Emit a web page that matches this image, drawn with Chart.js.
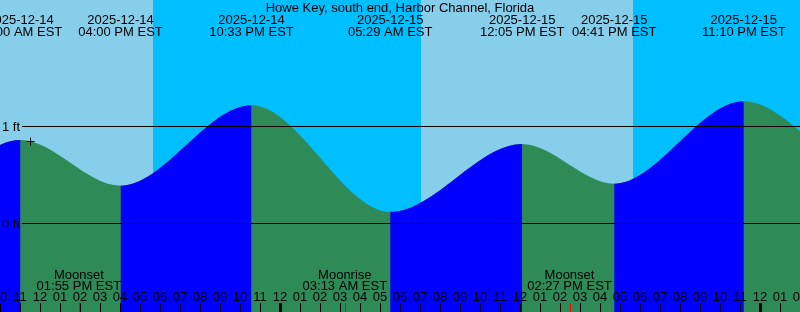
<!DOCTYPE html>
<html>
<head>
<meta charset="utf-8">
<script src="https://cdn.jsdelivr.net/npm/chart.js@4.4.1/dist/chart.umd.min.js"></script>
<style>
html, body { margin: 0; padding: 0; background: #00bfff; }
#wrap { width: 800px; height: 312px; }
</style>
</head>
<body>
<div id="wrap"><canvas id="tide" width="800" height="312"></canvas></div>
<script>
// Tide graph: Howe Key, two days around 2025-12-14/15
const stationName = 'Howe Key, south end, Harbor Channel, Florida';

// high / low waters (first two and last two sit outside the window, they only shape the curve)
const tideDates = ['2025-12-13', '2025-12-14', '2025-12-14', '2025-12-14', '2025-12-14', '2025-12-15', '2025-12-15', '2025-12-15', '2025-12-15', '2025-12-16', '2025-12-16'];
const tideTimes = ['10:00 PM', '04:30 AM', '11:00 AM', '04:00 PM', '10:33 PM', '05:29 AM', '12:05 PM', '04:41 PM', '11:10 PM', '05:50 AM', '12:30 PM'];
const tideHeights = [1.20, 0.10, 0.86, 0.39, 1.22, 0.12, 0.82, 0.41, 1.26, 0.45, 0.80];

// daylight spans
const sunrises = ['2025-12-14 07:00 AM', '2025-12-15 07:01 AM'];
const sunsets = ['2025-12-14 05:37 PM', '2025-12-15 05:37 PM'];

// moon events
const moonEvents = ['Moonset', 'Moonrise', 'Moonset'];
const moonDates = ['2025-12-14', '2025-12-15', '2025-12-15'];
const moonTimes = ['01:55 PM', '03:13 AM', '02:27 PM'];

// "now" mark
const markAt = '2025-12-14 11:30 AM';
const markHeight = 0.845;

// axis ticks
const heightTicks = [0, 1];
const firstTickHour = 10; // 10 AM on 2025-12-14
const hourLabels = ['10', '11', '12', '01', '02', '03', '04', '05', '06', '07', '08', '09', '10', '11',
  '12', '01', '02', '03', '04', '05', '06', '07', '08', '09', '10', '11',
  '12', '01', '02', '03', '04', '05', '06', '07', '08', '09', '10', '11',
  '12', '01', '02'];

const DAY = '#87ceeb', NIGHT = '#00bfff', RISE = '#0000ff', FALL = '#2e8b57';
const FONT = '13px "Liberation Sans", Arial, sans-serif';
const X_MIN = 9.975, X_MAX = 49.975;
const Y_MIN = -0.9124, Y_MAX = 2.3041;

// hours since 2025-12-14 00:00
function toHours(date, time) {
    const day = parseInt(date.slice(8), 10) - 14;
    const parts = time.split(' ');
    let [h, m] = parts[0].split(':').map(Number);
    if (h === 12) h = 0;
    if (parts[1] === 'PM') h += 12;
    return day * 24 + h + m / 60;
}
function stampHours(s) {
    return toHours(s.slice(0, 10), s.slice(11));
}

const tidePoints = tideTimes.map((t, i) => ({ x: toHours(tideDates[i], t), y: tideHeights[i] }));

const backdrop = {
    id: 'backdrop',
    beforeDraw(chart) {
        const { ctx, scales: { x } } = chart;
        ctx.save();
        ctx.fillStyle = NIGHT;
        ctx.fillRect(0, 0, chart.width, chart.height);
        ctx.fillStyle = DAY;
        for (let i = 0; i < sunrises.length; i++) {
            const x0 = Math.round(x.getPixelForValue(stampHours(sunrises[i])));
            const x1 = Math.round(x.getPixelForValue(stampHours(sunsets[i])));
            ctx.fillRect(x0, 0, x1 - x0, chart.height);
        }
        ctx.restore();
    }
};

const annotations = {
    id: 'annotations',
    afterDatasetsDraw(chart) {
        const { ctx, scales: { x, y } } = chart;
        ctx.save();
        ctx.font = FONT;
        ctx.fillStyle = '#000';
        ctx.textBaseline = 'alphabetic';

        // height lines
        heightTicks.forEach(v => {
            const py = Math.floor(y.getPixelForValue(v));
            ctx.fillRect(22, py, chart.width - 22, 1);
            ctx.textAlign = 'left';
            ctx.fillText(v + ' ft', 2, py + 4.5);
        });

        // title + extremes
        ctx.textAlign = 'center';
        ctx.fillText(stationName, 400, 12);
        tidePoints.forEach((p, i) => {
            const px = x.getPixelForValue(p.x);
            ctx.fillText(tideDates[i], px, 24);
            ctx.fillText(tideTimes[i] + ' EST', px, 36);
        });

        // hour ticks
        hourLabels.forEach((lab, i) => {
            const h = firstTickHour + i;
            const px = Math.floor(x.getPixelForValue(h));
            if (h % 24 === 0) ctx.fillRect(px - 1, 303, 3, 9);
            else ctx.fillRect(px, 303, 1, 9);
            ctx.fillText(lab, px, 301);
        });

        // moon events
        moonEvents.forEach((ev, i) => {
            const px = x.getPixelForValue(toHours(moonDates[i], moonTimes[i]));
            ctx.fillStyle = '#000';
            ctx.fillText(ev, px, 278.5);
            ctx.fillText(moonTimes[i] + ' EST', px, 290);
            ctx.fillStyle = '#ff0000';
            ctx.fillRect(Math.round(px), 303, 1, 9);
        });
        ctx.restore();
    }
};

new Chart(document.getElementById('tide'), {
    type: 'line',
    data: {
        datasets: [
            {
                type: 'scatter',
                data: [{ x: stampHours(markAt), y: markHeight }],
                pointStyle: 'cross',
                pointRadius: 4,
                borderColor: '#000',
                borderWidth: 1,
                backgroundColor: '#000'
            },
            {
                // rising water painted over the falling fill
                data: tidePoints,
                fill: 'start',
                cubicInterpolationMode: 'monotone',
                pointRadius: 0,
                borderWidth: 0,
                borderColor: 'rgba(0,0,0,0)',
                backgroundColor: RISE,
                segment: {
                    backgroundColor: c => c.p1.parsed.y > c.p0.parsed.y ? RISE : 'rgba(0,0,0,0)'
                }
            },
            {
                data: tidePoints,
                fill: 'start',
                cubicInterpolationMode: 'monotone',
                pointRadius: 0,
                borderWidth: 0,
                borderColor: 'rgba(0,0,0,0)',
                backgroundColor: FALL
            }
        ]
    },
    options: {
        responsive: false,
        devicePixelRatio: 1,
        animation: false,
        layout: { padding: 0, autoPadding: false },
        plugins: { legend: { display: false }, tooltip: { enabled: false }, title: { display: false } },
        scales: {
            x: { type: 'linear', display: false, min: X_MIN, max: X_MAX },
            y: { display: false, min: Y_MIN, max: Y_MAX }
        }
    },
    plugins: [backdrop, annotations]
});
</script>
</body>
</html>
